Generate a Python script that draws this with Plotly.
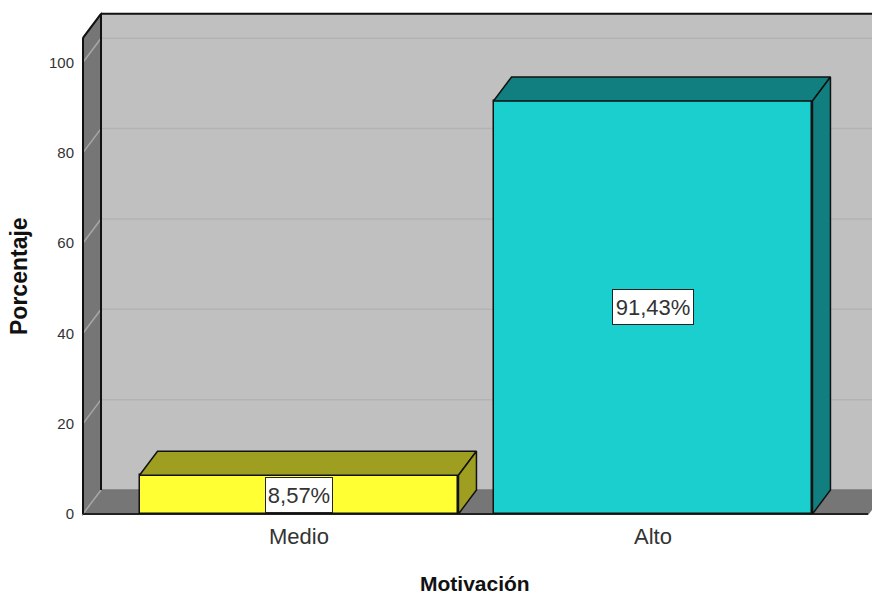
import plotly.graph_objects as go

categories = ["Medio", "Alto"]
percentages = [8.57, 91.43]
bar_labels = ["8,57%", "91,43%"]
label_widths = [64, 78]
front_colors = ["#ffff33", "#1ccfcf"]
shade_colors = ["#9e9e20", "#117f7f"]
y_ticks = [0, 20, 40, 60, 80, 100]

x_positions = [0, 1]
bar_width = 0.901
depth_x = 18 / 354
depth_y = 24 / 4.517
x_min, x_max = -0.6186, 1.6187
y_min, y_max = -0.886, 111.57
wall_left = -0.6101
floor_right = 1.6074
wall_top = 105.4
edge = "#111111"

shapes = []


def poly(points, fill, line=None, width=1.5):
    path = "M" + " L".join(f"{x},{y}" for x, y in points) + " Z"
    shapes.append(dict(type="path", path=path, xref="x", yref="y", layer="below",
                       fillcolor=fill, line=dict(color=line or fill, width=width)))


def seg(x0, y0, x1, y1, color, width=1.5):
    shapes.append(dict(type="line", x0=x0, y0=y0, x1=x1, y1=y1, xref="x", yref="y",
                       layer="below", line=dict(color=color, width=width)))


back_x = wall_left + depth_x
poly([(back_x, depth_y), (x_max + 0.2, depth_y), (x_max + 0.2, wall_top + depth_y), (back_x, wall_top + depth_y)], "#c0c0c0")
poly([(wall_left, 0), (back_x, depth_y), (back_x, wall_top + depth_y), (wall_left, wall_top)], "#767676")
poly([(wall_left, 0), (floor_right, 0), (floor_right + depth_x, depth_y), (back_x, depth_y)], "#767676")
for t in y_ticks:
    seg(wall_left, t, back_x, t + depth_y, "#a8a8a8", 1.5)
    if t > 0:
        seg(back_x, t + depth_y, x_max + 0.2, t + depth_y, "#b3b3b3", 1.5)
seg(wall_left, 0, wall_left, wall_top, edge, 2)
seg(wall_left, wall_top, back_x, wall_top + depth_y, edge, 2)
seg(back_x, depth_y, back_x, wall_top + depth_y, edge, 2)
seg(back_x, wall_top + depth_y, x_max + 0.2, wall_top + depth_y, edge, 2)
seg(wall_left, 0, floor_right, 0, "#222222", 2)

fig = go.Figure()
fig.add_trace(go.Bar(
    x=x_positions, y=percentages, width=bar_width,
    marker=dict(color=front_colors, line=dict(color=edge, width=1.5)),
    hoverinfo="skip", showlegend=False,
))

for xp, v, shade in zip(x_positions, percentages, shade_colors):
    x0 = xp - bar_width / 2
    x1 = xp + bar_width / 2
    top_x = [x0, x1, x1 + depth_x, x0 + depth_x, x0]
    top_y = [v, v, v + depth_y, v + depth_y, v]
    side_x = [x1, x1 + depth_x, x1 + depth_x, x1, x1]
    side_y = [0, depth_y, v + depth_y, v, 0]
    for fx, fy in ((top_x, top_y), (side_x, side_y)):
        fig.add_trace(go.Scatter(
            x=fx, y=fy, mode="lines", fill="toself", fillcolor=shade,
            line=dict(color=edge, width=1.5), hoverinfo="skip", showlegend=False,
        ))

annotations = [
    dict(x=xp, y=v / 2, xref="x", yref="y", text=txt, showarrow=False,
         bgcolor="#ffffff", bordercolor="#222222", borderwidth=1, borderpad=1,
         width=w, height=32, font=dict(family="Liberation Sans", size=22, color="#333333"))
    for xp, v, txt, w in zip(x_positions, percentages, bar_labels, label_widths)
]
annotations.append(dict(
    x=(19 - 80) / 792, y=(518 - 276) / 508, xref="paper", yref="paper",
    text="<b>Porcentaje</b>", textangle=-90, showarrow=False,
    xanchor="center", yanchor="middle",
    font=dict(family="Liberation Sans", size=23, color="#111111"),
))
annotations.append(dict(
    x=(475 - 80) / 792, y=(518 - 583) / 508, xref="paper", yref="paper",
    text="<b>Motivación</b>", showarrow=False,
    xanchor="center", yanchor="middle",
    font=dict(family="Liberation Sans", size=21, color="#111111"),
))

fig.update_layout(
    width=872, height=596,
    autosize=False,
    paper_bgcolor="#ffffff", plot_bgcolor="#ffffff",
    margin=dict(l=80, r=0, t=10, b=78),
    bargap=0,
    shapes=shapes,
    annotations=annotations,
    font=dict(family="Liberation Sans", color="#333333"),
    xaxis=dict(
        range=[x_min, x_max], tickvals=x_positions, ticktext=categories,
        showgrid=False, zeroline=False, showline=False,
        ticks="", ticklabelstandoff=3,
        tickfont=dict(size=22, color="#333333"),
    ),
    yaxis=dict(
        range=[y_min, y_max], tickvals=y_ticks,
        showgrid=False, zeroline=False, showline=False,
        ticks="outside", ticklen=2, tickcolor="rgba(0,0,0,0)",
        tickfont=dict(size=15, color="#333333"),
    ),
)

fig.write_html("out.html", config={"displayModeBar": False},
               post_script="document.body.style.margin='0';")
